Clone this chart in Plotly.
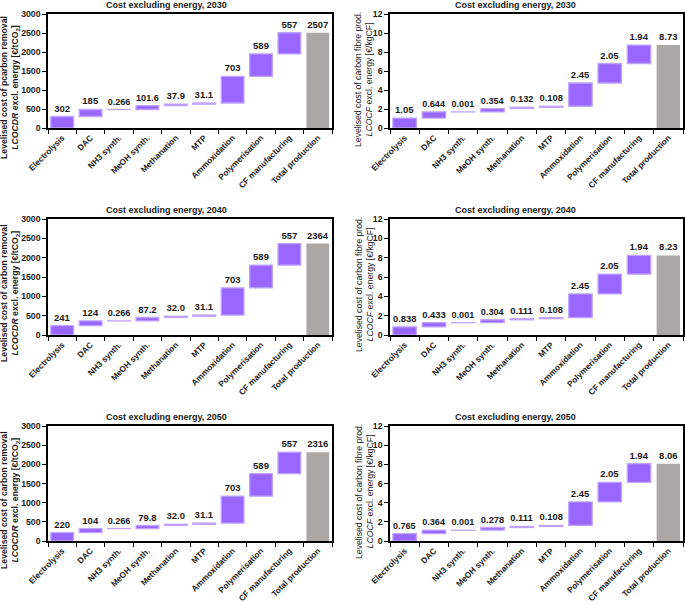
import plotly.graph_objects as go

categories = ["Electrolysis", "DAC", "NH3 synth.", "MeOH synth.", "Methanation", "MTP",
              "Ammoxidation", "Polymerisation", "CF manufacturing", "Total production"]

cdr_2030 = [302, 185, 0.266, 101.6, 37.9, 31.1, 703, 589, 557]
cdr_2030_labels = ["302", "185", "0.266", "101.6", "37.9", "31.1", "703", "589", "557", "2507"]
cf_2030 = [1.05, 0.644, 0.001, 0.354, 0.132, 0.108, 2.45, 2.05, 1.94]
cf_2030_labels = ["1.05", "0.644", "0.001", "0.354", "0.132", "0.108", "2.45", "2.05", "1.94", "8.73"]

cdr_2040 = [241, 124, 0.266, 87.2, 32.0, 31.1, 703, 589, 557]
cdr_2040_labels = ["241", "124", "0.266", "87.2", "32.0", "31.1", "703", "589", "557", "2364"]
cf_2040 = [0.838, 0.433, 0.001, 0.304, 0.111, 0.108, 2.45, 2.05, 1.94]
cf_2040_labels = ["0.838", "0.433", "0.001", "0.304", "0.111", "0.108", "2.45", "2.05", "1.94", "8.23"]

cdr_2050 = [220, 104, 0.266, 79.8, 32.0, 31.1, 703, 589, 557]
cdr_2050_labels = ["220", "104", "0.266", "79.8", "32.0", "31.1", "703", "589", "557", "2316"]
cf_2050 = [0.765, 0.364, 0.001, 0.278, 0.111, 0.108, 2.45, 2.05, 1.94]
cf_2050_labels = ["0.765", "0.364", "0.001", "0.278", "0.111", "0.108", "2.45", "2.05", "1.94", "8.06"]

years = ["2030", "2040", "2050"]
left_titles = [
    "Levelised cost of pcarbon removal<br><i>LCOCDR</i> excl. energy [€/tCO<sub>2</sub>]",
    "Levelised cost of carbon removal<br><i>LCOCDR</i> excl. energy [€/tCO<sub>2</sub>]",
    "Levelised cost of carbon removal<br><i>LCOCDR</i> excl. energy [€/tCO<sub>2</sub>]",
]
right_title = "Levelised cost of carbon fibre prod.<br><i>LCOCF</i> excl. energy [€/kgCF]"

PURPLE = "#9966FF"
EDGE = "#BFA3FF"
GREY = "#ABA7A5"
TXT = "#1a1a1a"
FONT = "Liberation Sans"

W, H = 685, 602


def px(X):
    return X / W


def py(Y):
    return 1 - Y / H


left_x = [px(48), px(332)]
right_x = [px(390), px(683)]
rows_px = [(14, 128), (219, 335), (426, 541)]
row_shift = [0, 205, 412]

panels = [
    (cdr_2030, cdr_2030_labels, cf_2030, cf_2030_labels),
    (cdr_2040, cdr_2040_labels, cf_2040, cf_2040_labels),
    (cdr_2050, cdr_2050_labels, cf_2050, cf_2050_labels),
]

fig = go.Figure()
annotations = []
idx = 0
for r, (cdr, cdr_lab, cf, cf_lab) in enumerate(panels):
    top, bot = rows_px[r]
    ydom = [py(bot), py(top)]
    for c, (vals, labs, rng, dt, xdom, ytitle) in enumerate([
        (cdr, cdr_lab, [0, 3000], 500, left_x, left_titles[r]),
        (cf, cf_lab, [0, 12], 2, right_x, right_title),
    ]):
        idx += 1
        xa = "x" if idx == 1 else f"x{idx}"
        ya = "y" if idx == 1 else f"y{idx}"
        fig.add_trace(go.Waterfall(
            x=categories,
            y=list(vals) + [0],
            measure=["relative"] * len(vals) + ["total"],
            text=labs,
            textposition="outside",
            textfont=dict(family=FONT, size=9.5, color=TXT, weight="bold"),
            cliponaxis=False,
            increasing=dict(marker=dict(color=PURPLE, line=dict(color=EDGE, width=1.3))),
            totals=dict(marker=dict(color=GREY, line=dict(color=GREY, width=0))),
            connector=dict(visible=False),
            xaxis=xa, yaxis=ya,
            showlegend=False,
            hoverinfo="skip",
        ))
        xkey = "xaxis" if idx == 1 else f"xaxis{idx}"
        ykey = "yaxis" if idx == 1 else f"yaxis{idx}"
        fig.update_layout(**{
            xkey: dict(domain=xdom, anchor=ya, type="category", tickson="boundaries",
                       ticks="outside", ticklen=4, tickcolor="black", tickangle=-45,
                       showline=True, linecolor="black", linewidth=1.5, mirror=True,
                       tickfont=dict(family=FONT, size=8.3, color=TXT, weight="bold"),
                       showgrid=False, automargin=False),
            ykey: dict(domain=ydom, anchor=xa, range=rng, dtick=dt,
                       ticks="outside", ticklen=4, tickcolor="black",
                       showline=True, linecolor="black", linewidth=1.5, mirror=True,
                       tickfont=dict(family=FONT, size=8.7, color=TXT, weight="bold"),
                       showgrid=False, zeroline=False, automargin=False),
        })
        # panel title
        title_cx = 166 if c == 0 else 515
        annotations.append(dict(
            text=f"Cost excluding energy, {years[r]}",
            x=px(title_cx), y=py(top - 9), xref="paper", yref="paper",
            xanchor="center", yanchor="middle", showarrow=False,
            font=dict(family=FONT, size=9, color=TXT, weight="bold"),
        ))
        # y-axis title
        if c == 0:
            tx, tcy = 10, 88 + row_shift[r]
        else:
            tx, tcy = 364, 80 + row_shift[r]
        annotations.append(dict(
            text=ytitle, textangle=-90,
            x=px(tx), y=py(tcy), xref="paper", yref="paper",
            xanchor="center", yanchor="middle", showarrow=False,
            font=dict(family=FONT, size=8.7, color=TXT,
                      weight="bold" if c == 0 else "normal"),
        ))

fig.update_layout(
    width=W, height=H,
    margin=dict(l=0, r=0, t=0, b=0),
    paper_bgcolor="white", plot_bgcolor="white",
    bargap=0.06,
    annotations=annotations,
)

fig.write_html(
    "out.html",
    config={"displayModeBar": False},
    post_script="document.body.style.margin='0px';document.body.style.overflow='hidden';",
)
